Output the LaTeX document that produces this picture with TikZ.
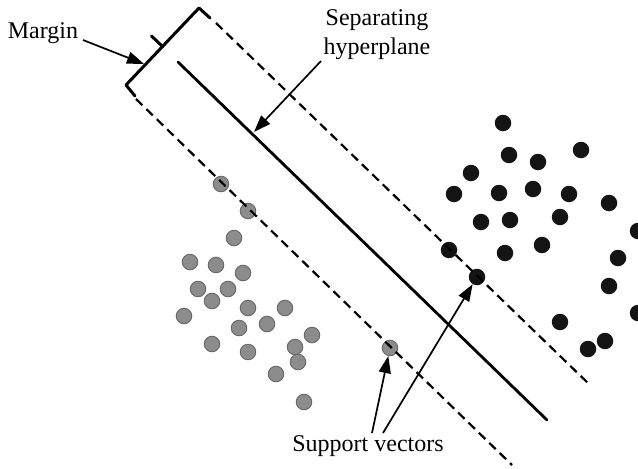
\documentclass[tikz,border=0pt]{standalone}
\usepackage{fontspec}
\setmainfont{Liberation Serif}
\usetikzlibrary{arrows.meta}
\begin{document}
\begin{tikzpicture}[x=1pt,y=-1pt,
  graydot/.style={circle,fill=black!45,draw=black!58,line width=1pt,minimum size=15.5pt,inner sep=0pt},
  blackdot/.style={circle,fill=black!92,draw=none,minimum size=16.5pt,inner sep=0pt},
  hyper/.style={line width=2.8pt,line cap=round},
  marginline/.style={line width=2.2pt,dash pattern=on 9pt off 5.5pt},
  bracket/.style={line width=3pt,line join=round,line cap=round},
  pointer/.style={line width=1.7pt,-{Triangle[length=17pt,width=12pt]}},
  lbl/.style={font=\fontsize{24}{29}\selectfont,align=center,inner sep=0pt}]
\useasboundingbox (0,0) rectangle (638,469);
\begin{scope}
\clip (0,0) rectangle (638,469);
% class 1: grey points
\foreach \x/\y [count=\i] in {221/184,248/211,234/238,190/262,216/265,243/273,198/289,228/289,212/301,248/308,285/308,184/316,239/328,267/324,312/335,212/344,248/352,295/347,298/362,276/374,304/402}
  \node[graydot] (g\i) at (\x,\y) {};
\node[graydot] (gs) at (390,348) {};
% class 2: black points
\foreach \x/\y [count=\i] in {503/123,581/150,509/155,538/162,471/173,454/194,499/193,533/189,569/194,609/203,481/222,510/220,560/217,638/231,449/250,505/253,542/245,618/258,609/286,638/313,560/322,605/341,588/349}
  \node[blackdot] (b\i) at (\x,\y) {};
\node[blackdot] (bs) at (477,277) {};
\end{scope}
% hyperplane and margin boundaries
\coordinate (hA) at (178,62);  \coordinate (hB) at (547,420);
\coordinate (uA) at (216,23);  \coordinate (uB) at (590,385);
\coordinate (lA) at (136,99);  \coordinate (lB) at (512,465);
\draw[hyper] (hA) -- (hB);
\draw[marginline] (uA) -- (uB);
\draw[marginline] (lA) -- (lB);
% margin bracket
\coordinate (bT) at (199,8);  \coordinate (bB) at (126,85);
\coordinate (bM) at (162.5,46.5);
\draw[bracket] (210,18) -- (bT) -- (bB) -- (135,96);
\draw[bracket] (bM) -- (151.5,36);
% labels
\node[lbl] (mg) at (43,33) {Margin};
\node[lbl] (sh) at (377,35) {Separating\\hyperplane};
\node[lbl] (sv) at (368,446) {Support vectors};
% pointers
\coordinate (mgA) at (83,40);   \coordinate (mgB) at (144,64);
\draw[pointer] (mgA) -- (mgB);
\coordinate (shA) at (321,61);  \coordinate (shB) at (254,132);
\draw[pointer] (shA) -- (shB);
\coordinate (sv1) at (372,433); \coordinate (sv2) at (383,433);
\draw[pointer] (sv1) -- (gs);
\draw[pointer] (sv2) -- (bs);
\end{tikzpicture}
\end{document}
